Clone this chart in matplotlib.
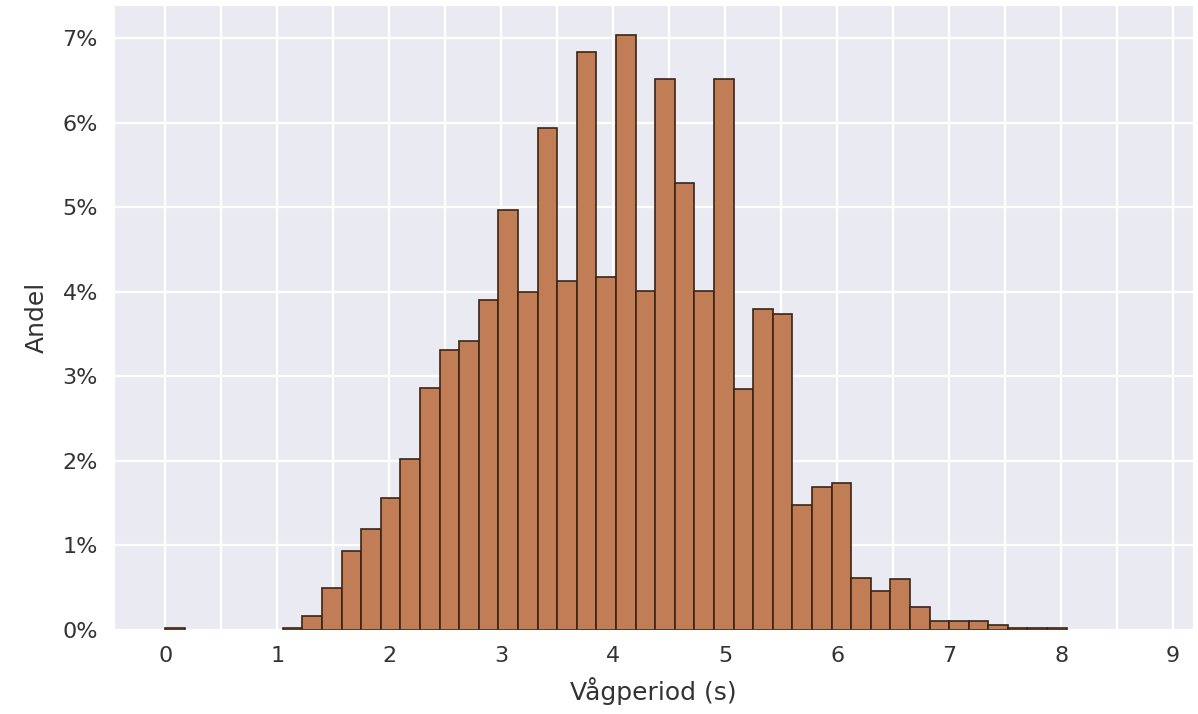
import matplotlib
matplotlib.use("Agg")
import matplotlib.pyplot as plt
import seaborn as sns
import numpy as np
from matplotlib.ticker import FuncFormatter, MultipleLocator

# Bin width of the histogram (s) and share of waves per bin (%)
bin_width = 0.175
andel = [0.02, 0.0, 0.0, 0.0, 0.0, 0.0, 0.02, 0.16, 0.49, 0.93,
         1.19, 1.56, 2.02, 2.86, 3.31, 3.41, 3.90, 4.97, 3.99, 5.94,
         4.13, 6.83, 4.17, 7.04, 4.01, 6.51, 5.29, 4.01, 6.51, 2.85,
         3.79, 3.74, 1.47, 1.69, 1.74, 0.61, 0.46, 0.60, 0.27, 0.10,
         0.10, 0.10, 0.06, 0.02, 0.02, 0.02]
x_ticks = list(range(10))
y_ticks = list(range(8))

sns.set_style("darkgrid")
plt.rcParams['font.family'] = ['DejaVu Sans']

andel = np.array(andel)
edges = np.arange(len(andel) + 1) * bin_width
nonzero = andel > 0  # empty bins draw nothing

fig = plt.figure(figsize=(11.98, 7.14), dpi=100)
ax = fig.add_axes([0.095, 0.118, 0.901, 0.875])

ax.bar(edges[:-1][nonzero], andel[nonzero], width=bin_width, align='edge',
       color='#c17d55', edgecolor='#3b2516', linewidth=1.2)

ax.set_xlim(-0.46, 9.18)
ax.set_ylim(0, 7.39)
ax.set_xticks(x_ticks)
ax.xaxis.set_minor_locator(MultipleLocator(0.5))
ax.set_yticks(y_ticks)
ax.yaxis.set_major_formatter(FuncFormatter(lambda v, p: f"{v:.0f}%"))
ax.grid(True, which='both', color='white', linewidth=1.6)
ax.tick_params(axis='both', which='major', labelsize=16, labelcolor='#333333', pad=8)
ax.tick_params(which='minor', length=0)

ax.set_xlabel("Vågperiod (s)", fontsize=18, color='#333333', labelpad=8)
ax.set_ylabel("Andel", fontsize=18, color='#333333', labelpad=10)

fig.savefig("out.png", dpi=100)
